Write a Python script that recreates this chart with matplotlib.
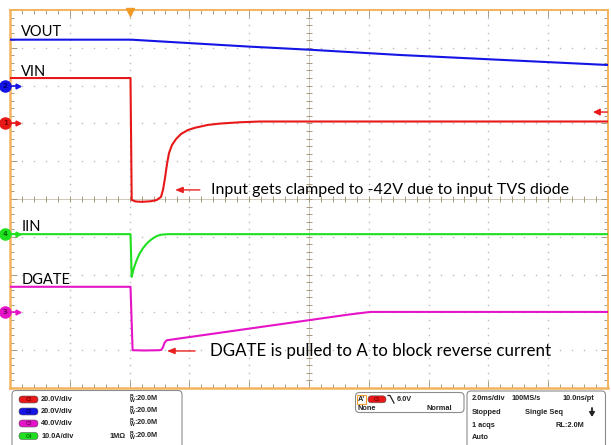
import numpy as np
import matplotlib
matplotlib.use("Agg")
import matplotlib.pyplot as plt
from matplotlib.patches import FancyBboxPatch, Rectangle
from matplotlib.ticker import MultipleLocator

W, H, DPI = 611, 445, 100

# Horizontal: 2 ms/div, 10 divisions, trigger at 20 %
t_start, t_stop = -4.0, 16.0
t_div = 2.0
n_ydiv = 10

# Vertical scale (units/div) and ground offset (div) of each channel
ch_scale = {"C1": 20.0, "C2": 20.0, "C3": 40.0, "C4": 10.0}
ch_offset = {"C1": 2.0, "C2": 3.0, "C3": -3.0, "C4": -0.93}
ch_color = {"C1": "#e81818", "C2": "#1414e6", "C3": "#e614c8", "C4": "#1ee01e"}
ch_dark = {"C1": "#7a0000", "C2": "#00006e", "C3": "#6e0060", "C4": "#006e00"}
trig_level = 6.0  # V on C1

# C2: VOUT (V)
vout_t = [-4.0, 0.05, 4.03, 6.0, 9.04, 16.0]
vout_v = [24.3, 24.3, 20.6, 19.0, 16.2, 10.9]

# C1: VIN (V)
vin_t = [-4.0, 0.03, 0.07, 0.2, 0.4, 0.7, 0.9, 1.05, 1.117, 1.184, 1.251,
         1.318, 1.418, 1.552, 1.72, 1.95, 2.19, 2.62, 3.02, 3.69, 4.36, 16.0]
vin_v = [24.0, 24.0, -40.5, -41.3, -41.5, -41.2, -40.6, -38.9, -35.2, -28.9,
         -21.5, -15.7, -11.4, -8.3, -5.6, -3.5, -2.3, -0.8, -0.1, 0.6, 1.0, 1.0]

# C4: IIN (A)
iin_t = [-4.0, 0.03, 0.07, 0.12, 0.18, 0.24, 0.33, 0.45, 0.56, 0.68, 0.8,
         0.91, 1.05, 1.3, 16.0]
iin_a = [0.0, 0.0, -11.3, -9.6, -8.1, -6.8, -5.2, -3.7, -2.6, -1.7, -1.0,
         -0.5, -0.15, 0.0, 0.0]

# C3: DGATE (V)
dgate_t = [-4.0, 0.03, 0.1, 0.5, 1.0, 1.07, 1.12, 1.17, 1.24, 7.37, 8.05, 16.0]
dgate_v = [27.1, 27.1, -40.0, -40.3, -40.0, -39.4, -36.5, -32.0, -29.5, -2.1,
           0.5, 0.5]


def to_div(ch, vals):
    return ch_offset[ch] + np.asarray(vals, dtype=float) / ch_scale[ch]


fig = plt.figure(figsize=(W / DPI, H / DPI), dpi=DPI, facecolor="white")

# ---- waveform area ----
ax = fig.add_axes([10 / W, 57 / H, 598 / W, 378 / H])
ax.set_xlim(t_start, t_stop)
ax.set_ylim(-n_ydiv / 2, n_ydiv / 2)
ax.set_facecolor("white")

border = "#f2b35e"
for s in ax.spines.values():
    s.set_color(border)
    s.set_linewidth(1.4)
ax.spines["left"].set_linewidth(1.8)
ax.spines["bottom"].set_linewidth(1.8)

tick_col = "#a89880"
ax.xaxis.set_major_locator(MultipleLocator(t_div))
ax.xaxis.set_minor_locator(MultipleLocator(t_div / 5))
ax.yaxis.set_major_locator(MultipleLocator(1))
ax.yaxis.set_minor_locator(MultipleLocator(0.2))
ax.tick_params(which="both", direction="in", top=True, right=True,
               labelbottom=False, labelleft=False, color=tick_col, width=0.7)
ax.tick_params(which="major", length=5)
ax.tick_params(which="minor", length=2.8)

# dotted graticule
t_center = (t_start + t_stop) / 2
gx, gy = [], []
for xv in np.arange(t_start + t_div, t_stop - 0.01, t_div):
    if abs(xv - t_center) < 1e-6:
        continue
    ys = np.arange(-5, 5.01, 0.2)
    gx += [xv] * len(ys)
    gy += list(ys)
for yv in range(-4, 5):
    if yv == 0:
        continue
    xs = np.arange(t_start, t_stop + 0.01, t_div / 5)
    gx += list(xs)
    gy += [yv] * len(xs)
ax.scatter(gx, gy, s=1.3, color="#bdbdbd", linewidths=0, zorder=1)

# centre cross-hair with ticks
ax.axvline(t_center, color="#cfc8bc", lw=0.7, zorder=1)
ax.axhline(0, color="#cfc8bc", lw=0.7, zorder=1)
yt = np.arange(-5, 5.01, 0.2)
ax.plot([t_center] * len(yt), yt, ls="none", marker="_", ms=4, mew=0.7,
        color=tick_col, zorder=1)
xt = np.arange(t_start, t_stop + 0.01, t_div / 5)
ax.plot(xt, [0] * len(xt), ls="none", marker="|", ms=4, mew=0.7,
        color=tick_col, zorder=1)

# traces
lw = 1.5
ax.plot(vout_t, to_div("C2", vout_v), color=ch_color["C2"], lw=lw, zorder=3)
ax.plot(vin_t, to_div("C1", vin_v), color=ch_color["C1"], lw=lw, zorder=3)
ax.plot(iin_t, to_div("C4", iin_a), color=ch_color["C4"], lw=lw, zorder=3)
ax.plot(dgate_t, to_div("C3", dgate_v), color=ch_color["C3"], lw=lw, zorder=3)

# trace names
lab_font = dict(family="Lato", fontsize=10.5, color="black", va="center", ha="left")
ax.text(-3.62, 4.42, "VOUT", **lab_font)
ax.text(-3.62, 3.36, "VIN", **lab_font)
ax.text(-3.62, -0.74, "IIN", **lab_font)
ax.text(-3.62, -2.14, "DGATE", **lab_font)

# call-outs
arrow_red = "#e82020"
aprops = dict(arrowstyle="-|>,head_length=0.45,head_width=0.18", color=arrow_red,
              lw=1.0, shrinkA=0, shrinkB=0)
ax.annotate("", xy=(1.52, 0.24), xytext=(2.35, 0.24), arrowprops=aprops, zorder=4)
ax.text(2.72, 0.24, "Input gets clamped to -42V due to input TVS diode",
        family="Lato", fontsize=11.5, va="center", ha="left", zorder=4)
ax.annotate("", xy=(1.25, -4.02), xytext=(2.19, -4.02), arrowprops=aprops, zorder=4)
ax.text(2.69, -4.02, "DGATE is pulled to A to block reverse current",
        family="Lato", fontsize=12.2, va="center", ha="left", zorder=4)

# trigger position / level markers
ax.plot([0], [0.994], transform=ax.get_xaxis_transform(), marker="v", ms=6,
        color="#f29a26", clip_on=False, zorder=5)
lvl = to_div("C1", [trig_level])[0]
ax.annotate("", xy=(15.5, lvl), xytext=(15.98, lvl),
            arrowprops=dict(arrowstyle="-|>,head_length=0.4,head_width=0.2",
                            color=ch_color["C1"], lw=1.0, shrinkA=0, shrinkB=0),
            zorder=5)

# channel ground markers on the left edge
ytr = ax.get_yaxis_transform()
for ch, num in [("C2", "2"), ("C1", "1"), ("C4", "4"), ("C3", "3")]:
    yv = ch_offset[ch]
    ax.plot([-0.008], [yv], transform=ytr, marker="o", ms=8, color=ch_color[ch],
            clip_on=False, zorder=6)
    ax.plot([0.0, 0.013], [yv, yv], transform=ytr, color=ch_color[ch], lw=1.2,
            clip_on=False, zorder=6)
    ax.plot([0.013], [yv], transform=ytr, marker=">", ms=3.5, color=ch_color[ch],
            clip_on=False, zorder=6)
    ax.text(-0.008, yv, num, transform=ytr, fontsize=5, color=ch_dark[ch],
            ha="center", va="center", fontweight="bold", zorder=7, clip_on=False)

# ---- status panel (pixel coordinates) ----
pan = fig.add_axes([0, 0, 1, 1], zorder=-1)
pan.set_xlim(0, W)
pan.set_ylim(H, 0)
pan.axis("off")

box_kw = dict(boxstyle="round,pad=0,rounding_size=4", facecolor="white",
              edgecolor="#8c8c8c", lw=0.8)
pan.add_patch(FancyBboxPatch((12, 390.5), 170, 70, **box_kw))
pan.add_patch(FancyBboxPatch((355.5, 392.5), 108.5, 20, **box_kw))
pan.add_patch(FancyBboxPatch((467, 391), 138.5, 70, **box_kw))

sfont = dict(family="Liberation Sans", fontweight="bold", fontsize=5.3,
             color="#222222", va="center")


def pill(x, y, ch, w=19, h=7):
    pan.add_patch(FancyBboxPatch((x, y - h / 2), w, h,
                                 boxstyle="round,pad=0,rounding_size=3.4",
                                 facecolor=ch_color[ch], edgecolor="#555555",
                                 lw=0.4))
    pan.text(x + w / 2, y, ch, fontsize=3.6, color=ch_dark[ch], ha="center",
             va="center", family="Liberation Sans", fontweight="bold")


ch_rows = [("C1", "20.0V/div", ""), ("C2", "20.0V/div", ""),
           ("C3", "40.0V/div", ""), ("C4", "10.0A/div", "1M\u03a9")]
row_y = [399.5, 411.5, 423.5, 436.0]
for (ch, sc, imp), yy in zip(ch_rows, row_y):
    pill(19, yy, ch)
    pan.text(41, yy, sc, ha="left", **sfont)
    if imp:
        pan.text(110, yy, imp, ha="left", **sfont)
    pan.text(129, yy, r"$\mathregular{^{B}_{W}}$:20.0M", ha="left", **sfont)

# trigger box
pan.add_patch(Rectangle((357, 395), 9, 8.5, facecolor="white",
                        edgecolor="#f2a030", lw=0.8))
pan.text(361.5, 399.3, "A'", ha="center", **sfont)
pill(368, 399.3, "C1", w=18)
pan.plot([388, 390, 394], [395.5, 395.5, 403], color="#222222", lw=0.9)
pan.text(396.5, 399.3, "6.0V", ha="left", **sfont)
pan.text(358, 408.5, "None", ha="left", **sfont)
pan.text(452, 408.5, "Normal", ha="right", **sfont)

# acquisition box
pan.text(472, 398.5, "2.0ms/div", ha="left", **sfont)
pan.text(511.5, 398.5, "100MS/s", ha="left", **sfont)
pan.text(594, 398.5, "10.0ns/pt", ha="right", **sfont)
pan.text(472, 413, "Stopped", ha="left", **sfont)
pan.text(525, 413, "Single Seq", ha="left", **sfont)
pan.annotate("", xy=(592, 417), xytext=(592, 408),
             arrowprops=dict(arrowstyle="-|>,head_length=0.25,head_width=0.15",
                             color="#222222", lw=1.3, shrinkA=0, shrinkB=0))
pan.text(472, 425.5, "1 acqs", ha="left", **sfont)
pan.text(555, 425.5, "RL:2.0M", ha="left", **sfont)
pan.text(472, 437.5, "Auto", ha="left", **sfont)

fig.savefig("out.png", dpi=DPI, facecolor="white")
